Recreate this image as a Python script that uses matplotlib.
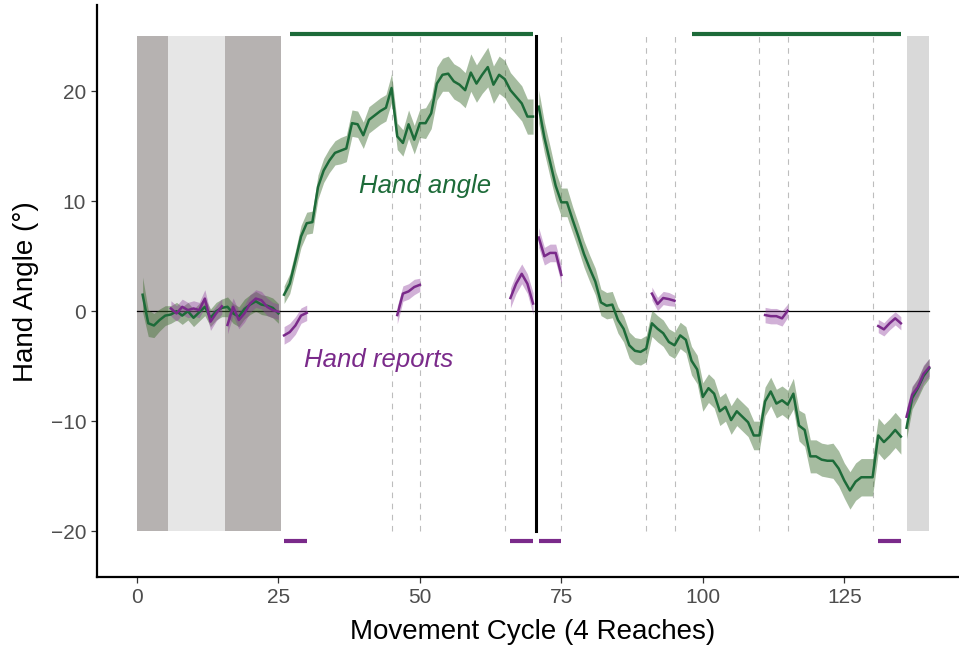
import matplotlib
matplotlib.use("Agg")
import matplotlib.pyplot as plt
import numpy as np

plt.rcParams["font.family"] = ["Liberation Sans", "DejaVu Sans"]

# ---- data ----
# hand angle, one list per continuous block: (first cycle, means, s.e.)
angle_a_start = 1
angle_a = [1.5, -1.1, -1.3, -0.8, -0.4, -0.3, 0.0, -0.4, 0.0, -0.6,
           -0.1, 0.4, -0.6, 0.0, 0.3, 0.4, -0.2, -0.5, 0.2, 0.6,
           0.9, 0.6, 0.5, 0.3, -0.2]
angle_a_se = [1.6, 1.2, 1.1, 1.0, 0.9, 0.8, 0.8, 0.8, 0.8, 0.8,
              0.8, 0.8, 0.8, 0.8, 0.8, 0.9, 0.9, 0.9, 0.9, 0.9,
              0.9, 0.9, 0.9, 0.9, 0.9]

angle_b_start = 26
angle_b = [1.5, 2.5, 4.6, 6.8, 8.0, 8.1, 11.3, 12.8, 13.7, 14.4,
           14.6, 14.8, 17.1, 17.0, 16.0, 17.4, 17.8, 18.2, 18.5, 20.3,
           15.9, 15.3, 17.0, 15.6, 17.1, 17.1, 18.0, 20.7, 21.5, 21.6,
           20.9, 20.6, 20.1, 21.7, 20.7, 21.5, 22.2, 20.6, 21.5, 21.1,
           20.1, 19.5, 18.9, 17.7, 17.7]
angle_b_se = [0.8, 0.9, 0.9, 1.0, 1.0, 1.0, 1.1, 1.1, 1.1, 1.1,
              1.2, 1.2, 1.2, 1.2, 1.2, 1.2, 1.2, 1.2, 1.2, 1.3,
              1.2, 1.2, 1.3, 1.3, 1.3, 1.4, 1.4, 1.5, 1.5, 1.6,
              1.6, 1.6, 1.6, 1.7, 1.7, 1.7, 1.8, 1.7, 1.7, 1.7,
              1.6, 1.6, 1.6, 1.6, 1.6]

angle_c_start = 71
angle_c = [18.6, 15.8, 13.6, 11.4, 9.9, 9.9, 8.3, 6.8, 5.2, 3.9,
           2.7, 0.8, 0.5, 0.6, -0.8, -1.6, -3.1, -3.6, -3.7, -3.4,
           -1.1, -1.6, -2.0, -2.8, -3.1, -2.2, -2.6, -4.5, -5.3, -7.8,
           -7.0, -7.5, -9.1, -8.7, -9.9, -9.1, -9.6, -10.1, -11.3, -11.3,
           -8.2, -7.3, -8.4, -8.1, -8.5, -7.5, -10.4, -10.8, -13.2, -13.2,
           -13.5, -13.6, -13.6, -14.3, -15.4, -16.3, -15.5, -15.1, -15.1, -15.1,
           -11.3, -11.9, -11.4, -10.8, -11.4]
angle_c_se = [1.5, 1.4, 1.4, 1.3, 1.3, 1.3, 1.2, 1.2, 1.2, 1.2,
              1.2, 1.2, 1.2, 1.2, 1.2, 1.2, 1.2, 1.2, 1.2, 1.2,
              1.2, 1.2, 1.2, 1.2, 1.2, 1.2, 1.2, 1.3, 1.3, 1.3,
              1.3, 1.3, 1.3, 1.3, 1.3, 1.3, 1.3, 1.3, 1.3, 1.3,
              1.3, 1.3, 1.3, 1.3, 1.3, 1.4, 1.4, 1.5, 1.5, 1.5,
              1.5, 1.5, 1.6, 1.6, 1.6, 1.7, 1.7, 1.7, 1.7, 1.7,
              1.6, 1.6, 1.6, 1.6, 1.6]

angle_d_start = 136
angle_d = [-10.6, -7.9, -7.0, -5.9, -5.2]
angle_d_se = [1.0, 1.0, 0.9, 0.9, 0.9]

# hand reports
report_starts = [6, 16, 26, 46, 66, 71, 91, 111, 131, 136]
report_vals = [
    [0.25, -0.2, 0.4, 0.1, 0.25, 0.1, 1.15, -0.95, -0.2, 0.45],
    [-1.25, 0.4, -0.8, -0.2, 0.7, 1.15, 1.0, 0.4, 0.1, -0.05],
    [-2.2, -1.9, -1.3, -0.4, -0.15],
    [-0.35, 1.6, 1.8, 2.2, 2.4],
    [1.2, 2.5, 3.4, 2.5, 0.7],
    [6.7, 5.0, 5.3, 5.3, 3.3],
    [1.6, 0.65, 1.2, 1.1, 0.95],
    [-0.35, -0.45, -0.45, -0.65, 0.05],
    [-1.35, -1.65, -1.1, -0.65, -1.1],
    [-9.6, -7.6, -6.9, -5.7, -5.1],
]
report_se = [
    [0.7, 0.7, 0.7, 0.7, 0.7, 0.7, 0.8, 0.8, 0.7, 0.7],
    [0.8, 0.8, 0.8, 0.8, 0.8, 0.8, 0.8, 0.8, 0.7, 0.7],
    [0.8, 0.8, 0.8, 0.7, 0.7],
    [0.8, 0.7, 0.7, 0.7, 0.6],
    [0.9, 0.9, 0.9, 0.9, 1.0],
    [0.9, 0.8, 0.8, 0.8, 0.8],
    [0.6, 0.6, 0.6, 0.6, 0.5],
    [0.7, 0.7, 0.7, 0.7, 0.6],
    [0.6, 0.6, 0.6, 0.6, 0.6],
    [0.8, 0.8, 0.8, 0.8, 0.8],
]

# phase shading (start, end, colour)
phase_blocks = [(0, 5.5, "#b6b2b1"), (5.5, 15.5, "#e6e6e6"),
                (15.5, 25.5, "#b6b2b1"), (136, 140, "#d9d9d9")]
dashed_cycles = [45, 50, 65, 75, 90, 95, 110, 115, 130]
switch_cycle = 70.5
angle_sig = [(27, 70), (98, 135)]
report_sig = [(26, 30), (66, 70), (71, 75), (131, 135)]

GREEN = "#1d6b39"
GREEN_FILL = "#3b6b2d"
PURPLE = "#7a2a8a"
PURPLE_FILL = "#8e3c9c"

fig = plt.figure(figsize=(9.59, 6.47), dpi=100)
ax = fig.add_axes([0.1015, 0.1077, 0.9087, 0.8838])

for x0, x1, col in phase_blocks:
    ax.fill_between([x0, x1], -20, 25, color=col, lw=0, zorder=0)

for xc in dashed_cycles:
    ax.plot([xc, xc], [-20, 25], color="#bdbdbd", lw=0.8,
            linestyle=(0, (5, 5)), zorder=1)

ax.plot([0, 140], [0, 0], color="black", lw=0.9, zorder=2)

for start, vals, se in [(angle_a_start, angle_a, angle_a_se),
                        (angle_b_start, angle_b, angle_b_se),
                        (angle_c_start, angle_c, angle_c_se),
                        (angle_d_start, angle_d, angle_d_se)]:
    x = np.arange(start, start + len(vals))
    m = np.array(vals)
    s = np.array(se)
    ax.fill_between(x, m - s, m + s, color=GREEN_FILL, alpha=0.45, lw=0, zorder=3)
    ax.plot(x, m, color=GREEN, lw=1.8, zorder=4)

for start, vals, se in zip(report_starts, report_vals, report_se):
    x = np.arange(start, start + len(vals))
    m = np.array(vals)
    s = np.array(se)
    ax.fill_between(x, m - s, m + s, color=PURPLE_FILL, alpha=0.4, lw=0, zorder=3)
    ax.plot(x, m, color=PURPLE, lw=1.8, zorder=4)

ax.plot([switch_cycle, switch_cycle], [-20, 25], color="black", lw=2.2, zorder=5)

for x0, x1 in angle_sig:
    ax.plot([x0, x1], [25.2, 25.2], color=GREEN, lw=3, solid_capstyle="butt")
for x0, x1 in report_sig:
    ax.plot([x0, x1], [-20.9, -20.9], color=PURPLE, lw=3, solid_capstyle="butt")

ax.text(50.9, 11.4, "Hand angle", color=GREEN, fontsize=18.5,
        style="italic", ha="center", va="center")
ax.text(42.7, -4.4, "Hand reports", color=PURPLE, fontsize=18.5,
        style="italic", ha="center", va="center")

ax.set_xlim(-7, 147)
ax.set_ylim(-24.2, 27.8)
ax.set_xticks([0, 25, 50, 75, 100, 125])
ax.set_yticks([-20, -10, 0, 10, 20])
ax.set_yticklabels(["\u221220", "\u221210", "0", "10", "20"])
ax.spines["top"].set_visible(False)
ax.spines["right"].set_visible(False)
for sp in ("left", "bottom"):
    ax.spines[sp].set_linewidth(1.6)
ax.tick_params(axis="both", labelsize=15, labelcolor="#4d4d4d", color="#333333",
               length=4, width=0.9, pad=4)
ax.set_xlabel("Movement Cycle (4 Reaches)", fontsize=20, labelpad=8)
ax.set_ylabel("Hand Angle (\u00b0)", fontsize=20, labelpad=8)

fig.savefig("out.png", dpi=100)
